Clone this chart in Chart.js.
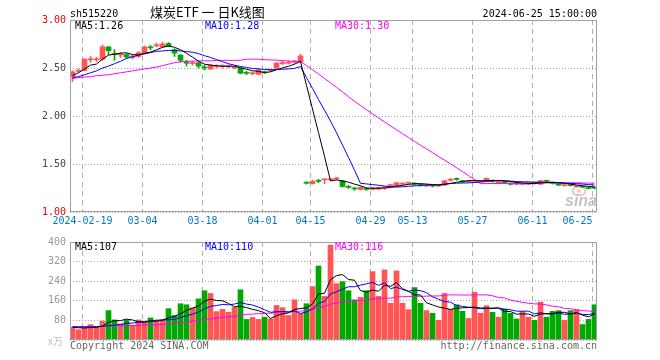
<!DOCTYPE html>
<html><head><meta charset="utf-8">
<script src="https://cdn.jsdelivr.net/npm/chart.js@4.4.1/dist/chart.umd.min.js"></script>
<style>
html,body{margin:0;padding:0;background:#fff;}
#wrap{position:relative;width:660px;height:360px;overflow:hidden;background:#fff;}
#c1{position:absolute;left:0;top:0;}
#c2{position:absolute;left:0;top:232px;}
</style></head><body>
<div id="wrap"><canvas id="c1" width="660" height="232"></canvas><canvas id="c2" width="660" height="128"></canvas></div>
<script>
// ---- tick labels (trading-day index -> label)
const tickIndex = [2, 12, 22, 32, 40, 50, 57, 67, 77, 87];
const tickLabels = ['2024-02-19','03-04','03-18','04-01','04-15','04-29','05-13','05-27','06-11','06-25'];

// ---- daily OHLC (2024-02-07 .. 2024-06-25)
const openP = [
 2.41,2.465,2.475,2.585,2.585,2.59,2.72,2.65,2.635,2.64,
 2.61,2.62,2.65,2.715,2.73,2.72,2.755,2.69,2.635,2.56,
 2.545,2.555,2.51,2.49,2.515,2.515,2.515,2.50,2.50,2.45,
 2.44,2.435,2.455,2.475,2.50,2.545,2.55,2.56,2.565,
 1.305,1.295,1.325,1.335,1.335,1.345,1.325,1.26,1.245,1.235,1.24,
 1.235,1.238,1.25,1.275,1.27,1.29,1.30,1.295,1.285,1.27,
 1.28,1.27,1.28,1.33,1.345,1.32,1.315,1.32,1.32,1.325,
 1.325,1.305,1.31,1.295,1.30,1.29,1.29,1.305,1.29,1.325,
 1.305,1.285,1.275,1.28,1.265,1.265,1.255,1.255];
const highP = [
 2.47,2.49,2.60,2.62,2.61,2.74,2.725,2.69,2.66,2.65,
 2.64,2.67,2.73,2.735,2.76,2.77,2.765,2.70,2.64,2.58,
 2.57,2.56,2.53,2.535,2.535,2.535,2.53,2.52,2.505,2.465,
 2.46,2.49,2.47,2.49,2.56,2.57,2.575,2.58,2.645,
 1.315,1.33,1.34,1.345,1.35,1.36,1.33,1.275,1.255,1.265,1.25,
 1.26,1.262,1.265,1.29,1.31,1.305,1.31,1.305,1.295,1.29,
 1.285,1.285,1.33,1.35,1.355,1.33,1.33,1.335,1.33,1.355,
 1.335,1.33,1.32,1.305,1.305,1.305,1.31,1.31,1.33,1.33,
 1.31,1.29,1.285,1.285,1.275,1.27,1.26,1.26];
const lowP = [
 2.36,2.455,2.47,2.56,2.565,2.58,2.64,2.58,2.61,2.60,
 2.595,2.61,2.645,2.69,2.72,2.715,2.72,2.62,2.56,2.52,
 2.53,2.50,2.48,2.485,2.50,2.50,2.50,2.49,2.44,2.43,
 2.43,2.43,2.44,2.465,2.495,2.535,2.54,2.55,2.56,
 1.29,1.29,1.305,1.295,1.33,1.335,1.26,1.245,1.225,1.23,1.225,
 1.23,1.235,1.235,1.265,1.265,1.28,1.29,1.28,1.27,1.265,
 1.26,1.265,1.275,1.32,1.33,1.305,1.31,1.31,1.31,1.32,
 1.31,1.30,1.295,1.28,1.285,1.285,1.285,1.29,1.285,1.31,
 1.29,1.275,1.27,1.27,1.26,1.255,1.24,1.24];
const closeP = [
 2.46,2.475,2.59,2.59,2.59,2.72,2.68,2.64,2.64,2.615,
 2.625,2.66,2.72,2.71,2.735,2.75,2.73,2.655,2.58,2.55,
 2.55,2.52,2.50,2.53,2.52,2.52,2.52,2.505,2.445,2.445,
 2.445,2.48,2.45,2.48,2.55,2.55,2.555,2.565,2.625,
 1.30,1.32,1.32,1.34,1.34,1.35,1.265,1.257,1.24,1.257,1.235,
 1.25,1.255,1.255,1.28,1.305,1.295,1.305,1.29,1.28,1.285,
 1.27,1.275,1.325,1.335,1.34,1.315,1.32,1.325,1.325,1.35,
 1.32,1.325,1.305,1.29,1.295,1.295,1.305,1.30,1.325,1.32,
 1.30,1.28,1.28,1.275,1.27,1.26,1.245,1.25];

// ---- daily volume (万)
const volume = [
 52,42,50,63,50,77,120,82,66,82,
 59,82,73,90,80,82,128,100,148,144,
 131,168,201,190,116,125,113,133,205,84,
 92,84,93,86,141,132,100,164,108,148,
 218,302,178,387,230,238,201,164,174,201,
 279,178,286,150,282,150,124,214,150,120,
 109,80,190,125,144,117,88,195,109,140,
 113,93,127,109,86,116,93,80,155,93,
 117,120,80,120,124,63,84,144];

// ---- moving-average values read for the first days (history before the window)
const ma5Head  = [2.42,2.45,2.49,2.53];
const ma10Head = [2.40,2.41,2.43,2.45,2.47,2.50,2.52,2.545,2.57];
const ma30Head = [2.39,2.40,2.405,2.41,2.42,2.425,2.43,2.44,2.45,2.46,2.47,2.48,2.49,2.50,2.51,2.525,2.54,2.555,2.565,2.57,2.57,2.575,2.575,2.575,2.578,2.58,2.58,2.58,2.58];
const vma5Head  = [52,50,49,51];
const vma10Head = [53,53,53,53,54,56,58,61,63];
const vma30Head = [55,55,55,55,55,57,57,58,58,59,59,60,62,62,63,63,68,69,70,72,76,80,84,86,90,92,95,97,100];

const maLabels  = ['MA5:1.26','MA10:1.28','MA30:1.30'];
const vmaLabels = ['MA5:107','MA10:110','MA30:116'];

// ---------------------------------------------------------------
const UP = '#ff5555', DOWN = '#00a800';
const MA_COLORS = ['#000000', '#0000ff', '#ff00ff'];
const idx = closeP.map((_, i) => i);
const colors = idx.map(i => closeP[i] >= openP[i] ? UP : DOWN);

function movingAvg(src, n, head) {
  return src.map((_, i) => {
    if (i < n - 1) return head[i];
    let s = 0;
    for (let k = i - n + 1; k <= i; k++) s += src[k];
    return s / n;
  });
}
const pts = arr => arr.map((v, i) => ({ x: i, y: v }));

const X_MIN = -0.41667, X_MAX = 87.41667;
const MONO = 'DejaVu Sans Mono';

function xScale(showLabels) {
  return {
    type: 'linear', min: X_MIN, max: X_MAX, offset: false,
    grid: { color: '#b0b0b0', lineWidth: 1, drawTicks: false, offset: false },
    border: { display: false, dash: [5, 4] },
    afterBuildTicks: s => { s.ticks = tickIndex.map(v => ({ value: v - 0.33 })); },
    ticks: {
      display: showLabels, autoSkip: false, maxRotation: 0, minRotation: 0, padding: 3,
      color: '#0078c8', font: { family: MONO, size: 10 },
      callback: (v, i) => i === tickLabels.length - 1 ? tickLabels[i] + '     ' : tickLabels[i]
    },
    afterFit: s => { s.height = showLabels ? 20 : 0; }
  };
}

function lineDs(data, color) {
  return { type: 'line', data: pts(data), borderColor: color, borderWidth: 1, pointRadius: 0,
           tension: 0, fill: false, order: 0 };
}

const framePlugin = {
  id: 'frame',
  afterDraw(chart) {
    const { ctx, chartArea: a } = chart;
    ctx.save();
    ctx.strokeStyle = '#a0a0a0';
    ctx.lineWidth = 1;
    ctx.strokeRect(a.left + 0.5, a.top + 0.5, a.right - a.left - 1, a.bottom - a.top - 1);
    ctx.restore();
  }
};

function drawMaLabels(ctx, labels, y) {
  ctx.font = '10px "' + MONO + '"';
  ctx.textAlign = 'left';
  ctx.textBaseline = 'alphabetic';
  [75, 205, 335].forEach((x, k) => { ctx.fillStyle = MA_COLORS[k]; ctx.fillText(labels[k], x, y); });
}

const priceText = {
  id: 'priceText',
  beforeDatasetsDraw(chart) {
    const ctx = chart.ctx;
    ctx.save();
    ctx.strokeStyle = '#f2c4c4'; ctx.lineWidth = 2;
    ctx.beginPath(); ctx.ellipse(579, 191, 6.5, 4.5, 0, 0, Math.PI * 2); ctx.stroke();
    ctx.fillStyle = '#f2c4c4';
    ctx.beginPath(); ctx.arc(579, 191, 2, 0, Math.PI * 2); ctx.fill();
    ctx.font = 'italic bold 16px "Liberation Sans"';
    ctx.fillStyle = '#c4c4c4';
    ctx.textAlign = 'left';
    ctx.fillText('sina', 565, 206);
    ctx.restore();
  },
  afterDraw(chart) {
    const ctx = chart.ctx;
    ctx.save();
    ctx.fillStyle = '#000';
    ctx.font = '10px "' + MONO + '"';
    ctx.textBaseline = 'alphabetic';
    ctx.textAlign = 'left';
    ctx.fillText('sh515220', 70, 17);
    ctx.textAlign = 'right';
    ctx.fillText('2024-06-25 15:00:00', 597, 17);
    ctx.textAlign = 'left';
    ctx.font = '13px "Noto Sans CJK SC"';
    ctx.fillText('煤炭ETF 一 日K线图', 150, 16.5);
    drawMaLabels(ctx, maLabels, 29);
    ctx.restore();
  }
};

const volText = {
  id: 'volText',
  afterDraw(chart) {
    const ctx = chart.ctx;
    ctx.save();
    drawMaLabels(ctx, vmaLabels, 18);
    ctx.font = '10px "' + MONO + '"';
    ctx.fillStyle = '#666';
    ctx.textAlign = 'left';
    ctx.fillText('Copyright 2024 SINA.COM', 70, 117);
    ctx.textAlign = 'right';
    ctx.fillText('http://finance.sina.com.cn', 597, 117);
    ctx.textAlign = 'left';
    ctx.fillStyle = '#c0c0c0';
    ctx.font = '10px "Noto Sans CJK SC"';
    ctx.fillText('x万', 48, 113);
    ctx.restore();
  }
};

const common = {
  responsive: false, animation: false, devicePixelRatio: 1,
  plugins: { legend: { display: false }, tooltip: { enabled: false }, title: { display: false } },
  events: []
};

// ---- price chart
new Chart(document.getElementById('c1'), {
  type: 'line',
  data: {
    datasets: [
      { type: 'bar', data: idx.map(i => ({ x: i, y: [lowP[i], highP[i]] })), backgroundColor: colors,
        barThickness: 1, grouped: false, order: 2 },
      { type: 'bar', data: idx.map(i => ({ x: i, y: [openP[i], closeP[i]] })), backgroundColor: colors,
        barThickness: 5, minBarLength: 1, grouped: false, order: 1 },
      lineDs(movingAvg(closeP, 5, ma5Head), MA_COLORS[0]),
      lineDs(movingAvg(closeP, 10, ma10Head), MA_COLORS[1]),
      lineDs(movingAvg(closeP, 30, ma30Head), MA_COLORS[2])
    ]
  },
  options: Object.assign({}, common, {
    layout: { padding: { left: 0, right: 63, top: 20, bottom: 0 } },
    scales: {
      x: xScale(true),
      y: {
        type: 'linear', min: 1, max: 3,
        grid: { color: '#a8a8a8', drawTicks: false },
        border: { display: false, dash: [1, 2] },
        ticks: { stepSize: 0.5, padding: 4, font: { family: MONO, size: 10 },
          color: c => (c.tick.value === 3 || c.tick.value === 1) ? '#ee0000' : '#444444',
          callback: v => Number(v).toFixed(2) },
        afterFit: s => { s.width = 70; }
      }
    }
  }),
  plugins: [framePlugin, priceText]
});

// ---- volume chart
new Chart(document.getElementById('c2'), {
  type: 'line',
  data: {
    datasets: [
      { type: 'bar', data: idx.map(i => ({ x: i, y: volume[i] })), backgroundColor: colors,
        barThickness: 5, grouped: false, order: 1 },
      lineDs(movingAvg(volume, 5, vma5Head), MA_COLORS[0]),
      lineDs(movingAvg(volume, 10, vma10Head), MA_COLORS[1]),
      lineDs(movingAvg(volume, 30, vma30Head), MA_COLORS[2])
    ]
  },
  options: Object.assign({}, common, {
    layout: { padding: { left: 0, right: 63, top: 9, bottom: 20 } },
    scales: {
      x: xScale(false),
      y: {
        type: 'linear', min: 0, max: 400,
        grid: { color: '#a8a8a8', drawTicks: false },
        border: { display: false, dash: [1, 2] },
        ticks: { stepSize: 80, padding: 4, font: { family: MONO, size: 10 }, color: '#999999',
          callback: v => v === 0 ? '' : String(v) },
        afterFit: s => { s.width = 70; }
      }
    }
  }),
  plugins: [framePlugin, volText]
});
</script>
</body></html>
